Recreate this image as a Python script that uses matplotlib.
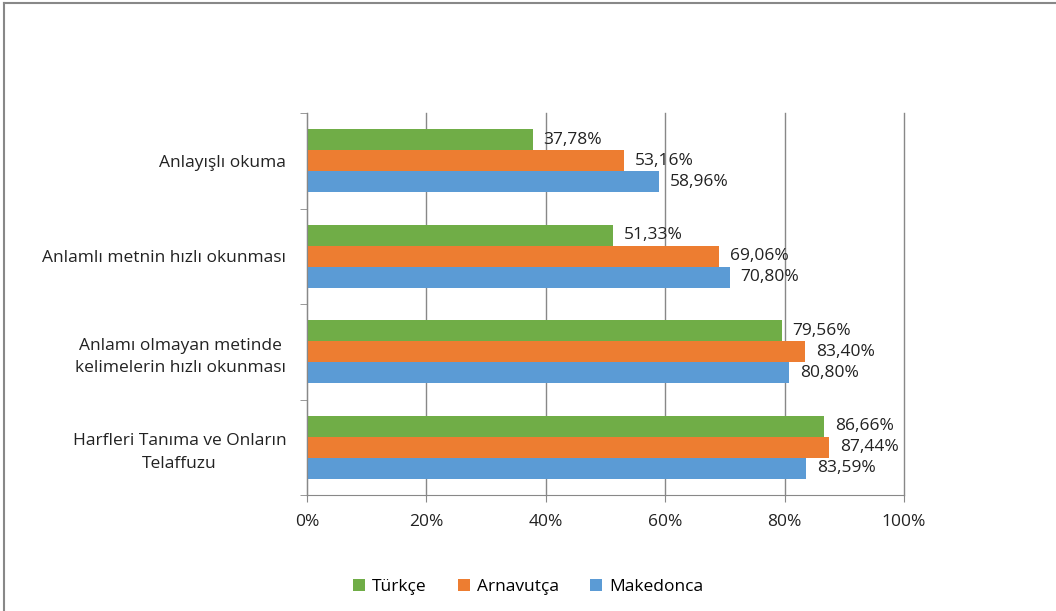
import numpy as np
import matplotlib.pyplot as plt
from matplotlib.lines import Line2D

# Categories top to bottom
categories = ['Anlayışlı okuma',
              'Anlamlı metnin hızlı okunması',
              'Anlamı olmayan metinde\nkelimelerin hızlı okunması',
              'Harfleri Tanıma ve Onların\nTelaffuzu']
turkce = [37.78, 51.33, 79.56, 86.66]
arnavutca = [53.16, 69.06, 83.40, 87.44]
makedonca = [58.96, 70.80, 80.80, 83.59]
series_names = ['Türkçe', 'Arnavutça', 'Makedonca']
colors = ['#70AD47', '#ED7D31', '#5B9BD5']

plt.rcParams['font.family'] = ['Open Sans', 'DejaVu Sans']
FS = 12.5

fig = plt.figure(figsize=(10.56, 6.11), dpi=100)
ax = fig.add_axes([307 / 1056, 1 - 495 / 611, 597 / 1056, 382 / 611])

y = np.arange(len(categories))
h = 0.22
for i, (vals, name, c) in enumerate(zip([turkce, arnavutca, makedonca], series_names, colors)):
    pos = y + (i - 1) * h
    ax.barh(pos, vals, height=h, color=c, label=name)
    for p, v in zip(pos, vals):
        ax.text(v + 1.8, p, f'{v:.2f}%'.replace('.', ','), va='center', ha='left',
                fontsize=FS, color='#222222')

ax.set_xlim(0, 100)
ax.set_ylim(len(categories) - 0.5, -0.5)
ax.set_xticks(np.arange(0, 101, 20))
ax.set_xticklabels([f'{t}%' for t in range(0, 101, 20)], fontsize=FS, color='#222222')
ax.set_yticks(y)
ax.set_yticklabels(categories, fontsize=FS, color='#222222', ha='right',
                   multialignment='center', linespacing=1.55)
ax.tick_params(axis='y', length=0, pad=15)
ax.tick_params(axis='x', length=5, color='#888888', pad=9)
# category separator ticks on the y axis
ax.set_yticks(np.arange(-0.5, len(categories), 1), minor=True)
ax.tick_params(axis='y', which='minor', length=5, color='#888888')

ax.grid(axis='x', color='#888888', linewidth=1)
for gl in ax.get_xgridlines():
    gl.set_clip_on(False)
ax.set_axisbelow(True)
for s in ['top', 'right']:
    ax.spines[s].set_visible(False)
ax.spines['left'].set_color('#888888')
ax.spines['bottom'].set_color('#888888')

ax.legend(loc='center', bbox_to_anchor=(0.5, 1 - 587 / 611), bbox_transform=fig.transFigure,
          ncol=3, frameon=False, fontsize=FS, handlelength=0.7, handleheight=0.7,
          columnspacing=1.8, handletextpad=0.4)

# partial border at top and left
fig.add_artist(Line2D([4 / 1056, 4 / 1056], [0, 1 - 3 / 611], transform=fig.transFigure,
                      color='#888888', linewidth=1.5))
fig.add_artist(Line2D([4 / 1056, 1], [1 - 3 / 611, 1 - 3 / 611], transform=fig.transFigure,
                      color='#888888', linewidth=1.5))

fig.savefig('out.png', dpi=100)
